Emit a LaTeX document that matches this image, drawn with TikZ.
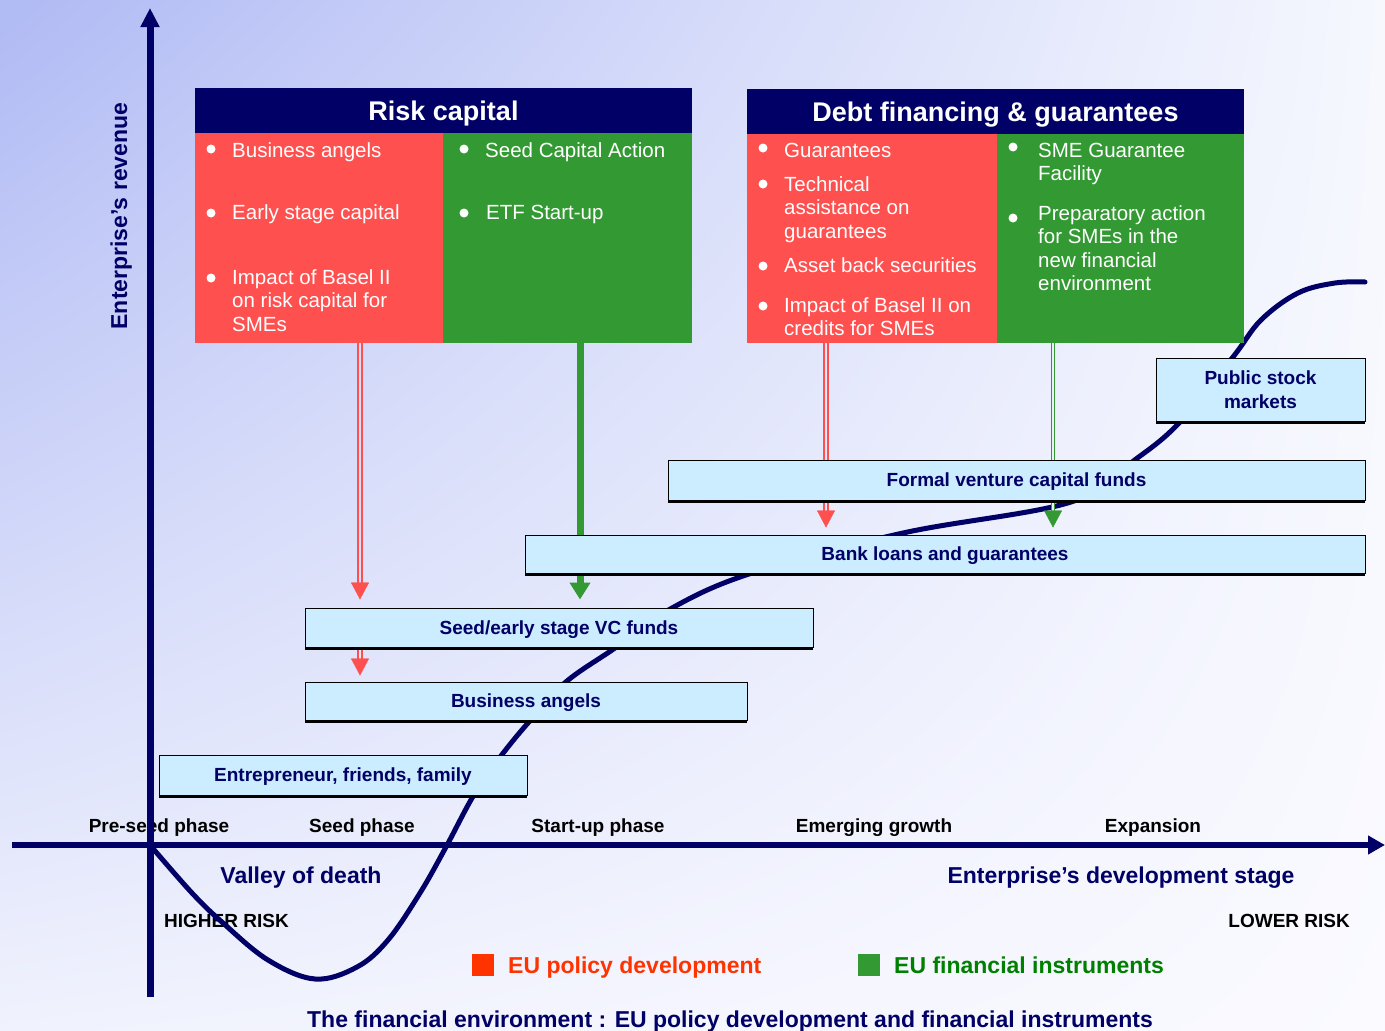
\documentclass[tikz,border=0pt]{standalone}
\usepackage{fontspec}
\setmainfont{Liberation Sans}
\usetikzlibrary{arrows.meta,shadows,calc,shadings}

\definecolor{navy}{RGB}{0,0,102}
\definecolor{boxred}{RGB}{255,80,80}
\definecolor{boxgreen}{RGB}{51,153,51}
\definecolor{boxblue}{RGB}{204,236,255}
\definecolor{legred}{RGB}{255,51,0}
\definecolor{leggreen}{RGB}{51,153,51}
\definecolor{leggreentxt}{RGB}{0,128,0}
\definecolor{bgTL}{RGB}{176,186,244}
\definecolor{bgTR}{RGB}{246,248,254}
\definecolor{bgBL}{RGB}{240,242,253}
\definecolor{bgBR}{RGB}{250,250,255}
\definecolor{gapA}{RGB}{216,221,249}
\definecolor{gapB}{RGB}{232,234,252}
\definecolor{gapC}{RGB}{227,230,251}
\definecolor{gapD}{RGB}{236,238,252}

\begin{document}
\begin{tikzpicture}[x=1pt,y=-1pt,
  bluebox/.style={draw=black, line width=1pt, fill=boxblue, inner sep=0pt,
    font=\fontsize{19}{24}\selectfont\bfseries, text=navy,
    drop shadow={shadow xshift=0pt, shadow yshift=-2.5pt, fill=black, opacity=1}},
  oneline/.style={text height=13.6pt, text depth=0pt},
  head/.style={fill=navy, inner sep=0pt, text=white,
    font=\fontsize{27}{30}\selectfont\bfseries, text height=19.3pt, text depth=0pt},
  redpart/.style={fill=boxred, inner sep=0pt, anchor=north west},
  greenpart/.style={fill=boxgreen, inner sep=0pt, anchor=north west},
  item/.style={text=white, inner sep=0pt, anchor=base west, align=left,
    font=\fontsize{20.5}{23.5}\selectfont},
  dot/.style={fill=white},
  phase/.style={inner sep=0pt, anchor=base, font=\fontsize{19}{22}\selectfont\bfseries, text=black},
  bigtxt/.style={inner sep=0pt, anchor=base, font=\fontsize{23}{26}\selectfont\bfseries},
  curve/.style={draw=navy, line width=5pt, line join=round, line cap=round},
  axisv/.style={draw=navy, line width=7pt, -{Triangle[width=18pt,length=19pt]}},
  axish/.style={draw=navy, line width=6pt, -{Triangle[width=18pt,length=17pt]}},
  redpair/.style={draw=boxred, line width=2pt, double distance=1.6pt},
  greenpair/.style={draw=boxgreen, line width=1.3pt, double distance=2.2pt},
  redhead/.style={draw=boxred, fill=boxred, line width=0.4pt, -{Triangle[width=18pt,length=17pt]}},
  greenhead/.style={draw=boxgreen, fill=boxgreen, line width=0.4pt, -{Triangle[width=18pt,length=17pt]}},
  greenarrow/.style={draw=boxgreen, line width=7pt, -{Triangle[width=20pt,length=17pt]}},
  legsq/.style={inner sep=0pt, minimum size=22pt}
]
\useasboundingbox (0,0) rectangle (1385,1031);
\shade[upper left=bgTL, upper right=bgTR, lower left=bgBL, lower right=bgBR] (0,0) rectangle (1385,1031);

% ---------- plain texts ----------
\node[phase] (p1) at (159,832) {Pre-seed phase};
\node[phase] (p2) at (362,832) {Seed phase};
\node[phase] (p3) at (598,832) {Start-up phase};
\node[phase] (p4) at (874,832) {Emerging growth};
\node[phase] (p5) at (1153,832) {Expansion};
\node[bigtxt, text=navy] (vod) at (301,883) {Valley of death};
\node[bigtxt, text=navy] (eds) at (1121,883) {Enterprise’s development stage};
\node[phase, anchor=base west] (hrisk) at (164,927) {HIGHER RISK};
\node[phase, anchor=base east] (lrisk) at (1350,927) {LOWER RISK};
\node[legsq, fill=legred] (lsqr) at (483,965) {};
\node[bigtxt, anchor=base west, text=legred] (ltr) at (508,973) {EU policy development};
\node[legsq, fill=leggreen] (lsqg) at (869,965) {};
\node[bigtxt, anchor=base west, text=leggreentxt] (ltg) at (894,973) {EU financial instruments};
\node[bigtxt, text=navy] (title) at (730,1027) {The financial environment : EU policy development and financial instruments};
\node[bigtxt, text=navy, rotate=90] (ylab) at (127,216) {Enterprise's revenue};

% ---------- S curve ----------
\draw[curve] plot[smooth, tension=0.6] coordinates {(150,845) (192,893) (223,923) (268,960) (315,979) (357,967) (388,940) (420,893) (446,847) (475,793) (504,752) (535,715) (567,681) (615,648) (672,608) (752,573) (903,533) (1071,502) (1136,459) (1180,422) (1233,357) (1261,320) (1298,293) (1335,283) (1365,282)};

% ---------- top boxes ----------
\node[head, minimum width=497pt, minimum height=45pt] (rch) at (443.5,110.5) {Risk capital};
\node[redpart, minimum width=248pt, minimum height=210pt] (rcr) at (195,133) {};
\node[greenpart, minimum width=249pt, minimum height=210pt] (rcg) at (443,133) {};

\node[head, minimum width=497pt, minimum height=45pt] (dfh) at (995.5,111.5) {Debt financing \& guarantees};
\node[redpart, minimum width=250pt, minimum height=209pt] (dfr) at (747,134) {};
\node[greenpart, minimum width=247pt, minimum height=209pt] (dfg) at (997,134) {};

% bullets
\fill[dot] (211,149) circle[radius=4.5pt];
\fill[dot] (211,213) circle[radius=4.5pt];
\fill[dot] (211,278) circle[radius=4.5pt];
\fill[dot] (464,149) circle[radius=4.5pt];
\fill[dot] (464,213) circle[radius=4.5pt];
\fill[dot] (763,148) circle[radius=4.5pt];
\fill[dot] (763,184) circle[radius=4.5pt];
\fill[dot] (763,266) circle[radius=4.5pt];
\fill[dot] (763,306) circle[radius=4.5pt];
\fill[dot] (1013,147) circle[radius=4.5pt];
\fill[dot] (1013,218) circle[radius=4.5pt];

% (multi-line nodes: base anchor = baseline of the last line)
\node[item] (r1) at (232,157) {Business angels};
\node[item] (r2) at (232,219) {Early stage capital};
\node[item] (r3) at (232,331) {Impact of Basel II\\on risk capital for\\SMEs};
\node[item] (g1) at (485,157) {Seed Capital Action};
\node[item] (g2) at (486,219) {ETF Start-up};
\node[item] (d1) at (784,157) {Guarantees};
\node[item] (d2) at (784,238) {Technical\\assistance on\\guarantees};
\node[item] (d3) at (784,272) {Asset back securities};
\node[item] (d4) at (784,335.5) {Impact of Basel II on\\credits for SMEs};
\node[item] (e1) at (1038,180.5) {SME Guarantee\\Facility};
\node[item] (e2) at (1038,290.5) {Preparatory action\\for SMEs in the\\new financial\\environment};

% ---------- arrow columns ----------
\coordinate (xa) at (360,0);
\coordinate (xb) at (580,0);
\coordinate (xc) at (826,0);
\coordinate (xd) at (1053,0);
\coordinate (seedtop) at (559,607.5);
\coordinate (seedbot) at (559,647.5);
\coordinate (bangtop) at (526,681.5);
\coordinate (banktop) at (945,534.5);

\draw[redpair, double=gapA, shorten >=24pt] (rcr.south -| xa) -- (seedtop -| xa);
\draw[redhead, shorten >=8pt] ($(seedtop -| xa)+(0,-25)$) -- (seedtop -| xa);
\draw[redpair, double=gapB, shorten >=22pt] (seedbot -| xa) -- (bangtop -| xa);
\draw[redhead, shorten >=6pt] ($(bangtop -| xa)+(0,-23)$) -- (bangtop -| xa);
\draw[greenarrow, shorten >=8pt] (rcg.south -| xb) -- (seedtop -| xb);
\draw[redpair, double=gapC, shorten >=23pt] (dfr.south -| xc) -- (banktop -| xc);
\draw[redhead, shorten >=7pt] ($(banktop -| xc)+(0,-24)$) -- (banktop -| xc);
\draw[greenpair, double=gapD, shorten >=23pt] (dfg.south -| xd) -- (banktop -| xd);
\draw[greenhead, shorten >=7pt] ($(banktop -| xd)+(0,-24)$) -- (banktop -| xd);

% ---------- light blue boxes ----------
\node[bluebox, align=center, minimum width=209pt, minimum height=63pt] (psm) at (1260.5,389.5) {Public stock\\markets};
\node[bluebox, oneline, minimum width=697pt, minimum height=40pt] (fvc) at (1016.5,480) {Formal venture capital funds};
\node[bluebox, oneline, minimum width=840pt, minimum height=38pt] (bank) at (945,554) {Bank loans and guarantees};
\node[bluebox, oneline, minimum width=508pt, minimum height=39pt] (seed) at (559,627.5) {Seed/early stage VC funds};
\node[bluebox, oneline, minimum width=442pt, minimum height=38pt] (bang) at (526,701) {Business angels};
\node[bluebox, oneline, minimum width=368pt, minimum height=40pt] (efam) at (343,775) {Entrepreneur, friends, family};

% ---------- axes ----------
\coordinate (ybot) at (150,997);
\coordinate (ytop) at (150,8);
\coordinate (xleft) at (12,845);
\coordinate (xright) at (1385,845);
\draw[axisv] (ybot) -- (ytop);
\draw[axish] (xleft) -- (xright);
\end{tikzpicture}
\end{document}
